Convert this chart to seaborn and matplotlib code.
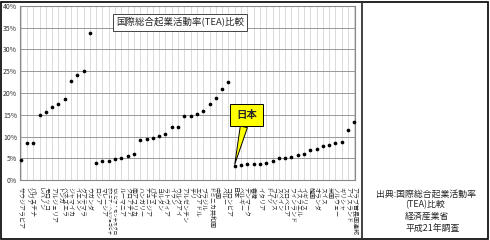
import pandas as pd
import seaborn as sns
import matplotlib.pyplot as plt
from matplotlib.lines import Line2D
from matplotlib.patches import Rectangle

# TEA by country (%), grouped and sorted as in the original
countries = [
    'サウジアラビア', 'シリア', 'パレスチナ', 'レバノン', 'モロッコ', 'アルジェリア',
    'トンガ', 'ベネズエラ', 'ジャマイカ', 'イエメン', 'グアテマラ', 'ウガンダ',
    'ロシア', 'マレーシア', 'ボスニア・ヘルツェゴビナ', 'セルビア・モンテネグロ',
    'ルーマニア', 'クロアチア', '南アフリカ', 'ハンガリー', 'チュニジア', 'パナマ',
    'ヨルダン', 'ラトヴィア', 'イラン', 'ウルグアイ', 'アルゼンチン', 'チリ',
    'エクアドル', 'ブラジル', 'ドミニカ共和国', '中国', 'ペルー', 'コロンビア',
    '日本', 'ベルギー', 'デンマーク', '香港', 'イタリア', 'ドイツ', 'フランス',
    'スペイン', 'スロベニア', 'フィンランド', 'イスラエル', 'イギリス', '韓国',
    'オランダ', 'スイス', '米国', 'ノルウェー', 'ギリシャ', 'アイスランド',
    'アラブ首長国連邦',
]
tea = [
    4.6, 8.4, 8.6, 14.9, 15.7, 16.7, 17.4, 18.7, 22.8, 24.1, 25.1, 33.7,
    3.8, 4.4, 4.3, 4.8, 5.0, 5.6, 5.9, 9.1, 9.4, 9.7, 10.2, 10.5,
    12.1, 12.1, 14.6, 14.8, 15.2, 15.8, 17.5, 18.8, 20.9, 22.5,
    3.3, 3.5, 3.6, 3.6, 3.7, 4.0, 4.3, 5.1, 5.1, 5.4, 5.7, 6.0,
    7.0, 7.2, 7.8, 8.1, 8.4, 8.7, 11.4, 13.3,
]
y_ticks = [0, 5, 10, 15, 20, 25, 30, 35, 40]

sns.set_style('white')
plt.rcParams['font.family'] = ['Noto Sans CJK JP', 'DejaVu Sans']

df = pd.DataFrame({'country': countries, 'tea': tea, 'pos': range(len(countries))})

fig = plt.figure(figsize=(4.9, 2.4), dpi=100)
ax = fig.add_axes([20 / 490, 60 / 240, 335 / 490, 174 / 240])

sns.scatterplot(data=df, x='pos', y='tea', color='black', s=7, linewidth=0,
                ax=ax, zorder=3, clip_on=False, legend=False)

ax.set_xlim(-0.1, len(countries) - 0.9)
ax.set_ylim(0, 40)
ax.set_xlabel('')
ax.set_ylabel('')

ax.set_yticks(y_ticks)
ax.set_yticklabels([f'{v}%' for v in y_ticks], fontsize=5, color='#333333')
ax.set_xticks(df['pos'])
ax.set_xticklabels(df['country'], rotation=270, fontsize=4.3, va='top', ha='center')
# squeeze the long names so they end where the others do
for lbl in ax.get_xticklabels():
    n = len(lbl.get_text())
    if n > 8:
        lbl.set_fontsize(4.3 * 8 / n)
ax.tick_params(axis='y', length=0, pad=2)
ax.tick_params(axis='x', length=0, pad=5)

ax.grid(axis='x', color='#cccccc', lw=0.5)
ax.grid(axis='y', color='#999999', lw=0.7)
for s in ax.spines.values():
    s.set_color('#888888')
    s.set_linewidth(0.8)

# chart title box
fig.text(180 / 490, 1 - 22.5 / 240, '国際総合起業活動率(TEA)比較', fontsize=6.8,
         ha='center', va='center',
         bbox=dict(boxstyle='square,pad=0.35', fc='white', ec='#444444', lw=0.7))

# Japan callout
jp = countries.index('日本')
ax.annotate('日本', xy=(jp, tea[jp] + 0.3), xytext=(jp + 1.9, 14.9),
            ha='center', va='center', fontsize=7.5, fontweight='bold',
            bbox=dict(boxstyle='square,pad=0.6', fc='yellow', ec='black', lw=0.7),
            arrowprops=dict(arrowstyle='wedge,tail_width=0.7', fc='yellow',
                            ec='black', lw=0.7, shrinkA=0, shrinkB=0),
            zorder=5)

# source note on the right
fig.text(376 / 490, 1 - 194 / 240, '出典:国際総合起業活動率', fontsize=6.4, va='center')
fig.text(405 / 490, 1 - 205 / 240, '(TEA)比較', fontsize=6.4, va='center')
fig.text(405 / 490, 1 - 216 / 240, '経済産業省', fontsize=6.4, va='center')
fig.text(405 / 490, 1 - 228 / 240, '平成21年調査', fontsize=6.4, va='center')

# outer frame and divider
fig.add_artist(Rectangle((0.002, 0.005), 0.994, 0.988, transform=fig.transFigure,
                         fill=False, ec='black', lw=1.2))
fig.add_artist(Line2D([362 / 490, 362 / 490], [0.005, 0.993], transform=fig.transFigure,
                      color='#333333', lw=1.3))

fig.savefig('out.png', dpi=100)
